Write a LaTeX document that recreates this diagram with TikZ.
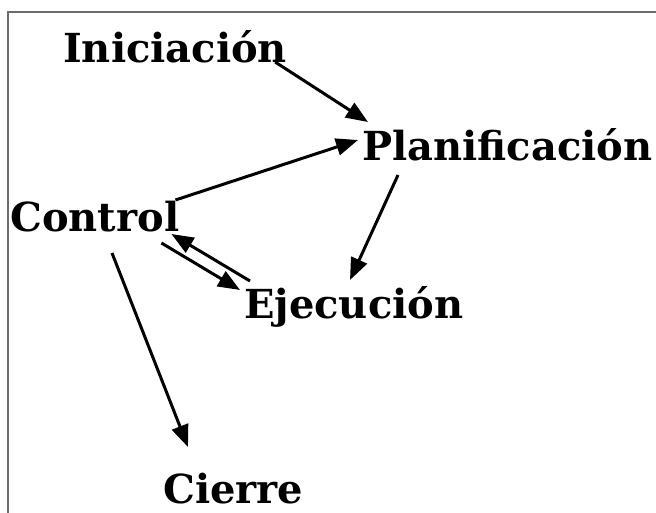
\documentclass[tikz,border=0pt]{standalone}
\usepackage{fontspec}
\setmainfont{DejaVu Serif}
\usetikzlibrary{arrows.meta,calc}
\begin{document}
\begin{tikzpicture}[x=1pt,y=-1pt,
  lbl/.style={anchor=base west,inner sep=0pt,font=\fontsize{40}{40}\selectfont\bfseries},
  arr/.style={line width=3pt,-{Triangle[length=22pt,width=17pt]}}]
\useasboundingbox (0,0) rectangle (656,512);
\draw[draw=gray!85!black,line width=1.5pt] (8,520) -- (8,12) -- (660,12);
\node[lbl] (ini) at (63,62) {Iniciación};
\node[lbl] (plan) at (362,160) {Planificación};
\node[lbl] (ctrl) at (10,231) {Control};
\node[lbl] (ejec) at (244,318) {Ejecución};
\node[lbl] (cier) at (163,503) {Cierre};
\draw[arr] ($(ini.base east)+(-12,0)$) -- ($(plan.base west)+(6,-38)$);
\draw[arr] ($(ctrl.base east)+(-4,-31)$) -- ($(plan.base west)+(-4,-20)$);
\draw[arr] ($(plan.base west)+(36,15)$) -- ($(ejec.base west)+(106,-38)$);
\draw[arr] ($(ctrl.base east)+(-18,12)$) -- ($(ejec.base west)+(-4,-28)$);
\draw[arr] ($(ejec.base west)+(6,-37)$) -- ($(ctrl.base east)+(-8,3)$);
\draw[arr] ($(ctrl.base west)+(102,22)$) -- ($(cier.base west)+(25,-56)$);
\end{tikzpicture}
\end{document}
